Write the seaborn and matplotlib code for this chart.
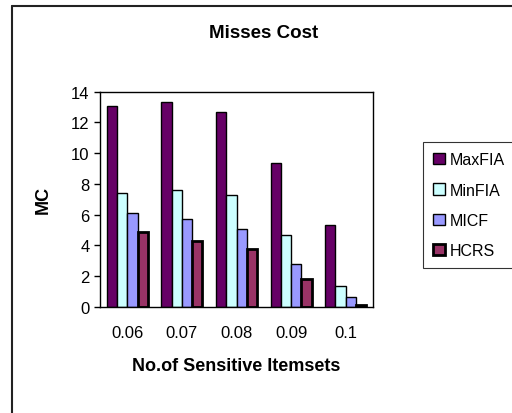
import pandas as pd
import matplotlib.pyplot as plt
import matplotlib.lines as mlines
import matplotlib.patches as mpatches
import seaborn as sns

# values
thresholds = ['0.06', '0.07', '0.08', '0.09', '0.1']
max_fia = [13.1, 13.3, 12.7, 9.35, 5.3]
min_fia = [7.4, 7.6, 7.3, 4.7, 1.35]
micf = [6.1, 5.7, 5.1, 2.8, 0.63]
hcrs = [4.9, 4.3, 3.75, 1.8, 0.15]

methods = ['MaxFIA', 'MinFIA', 'MICF', 'HCRS']
colors = ['#660066', '#CCFFFF', '#9999FF', '#993366']

df = pd.DataFrame({'Threshold': thresholds * 4,
                   'Method': sum([[m] * len(thresholds) for m in methods], []),
                   'MC': max_fia + min_fia + micf + hcrs})

sns.set_style('white')
plt.rcParams['font.family'] = ['Liberation Sans', 'DejaVu Sans']
plt.rcParams['text.color'] = 'black'
plt.rcParams['axes.labelcolor'] = 'black'
plt.rcParams['xtick.color'] = 'black'
plt.rcParams['ytick.color'] = 'black'

fig = plt.figure(figsize=(5.12, 4.14), dpi=100)
ax = fig.add_axes([100 / 512, 1 - 308 / 414, 273 / 512, 215.3 / 414])

sns.barplot(data=df, x='Threshold', y='MC', hue='Method', order=thresholds,
            hue_order=methods, palette=colors, width=0.75, edgecolor='black',
            linewidth=1, saturation=1, legend=False, ax=ax)

# thicker outline on HCRS bars
for bar in ax.containers[3]:
    bar.set_linewidth(2)

ax.set_ylim(0, 14)
ax.set_yticks(range(0, 15, 2))
ax.set_xlim(-0.5, len(thresholds) - 0.5)
ax.set_xticks(range(len(thresholds)))
ax.set_xticks([i - 0.5 for i in range(len(thresholds) + 1)], minor=True)
ax.tick_params(axis='x', which='major', length=0, labelsize=12, pad=13)
ax.tick_params(axis='x', which='minor', length=4, width=1, direction='out', color='black')
ax.tick_params(axis='y', length=4, width=1, direction='out', left=True, labelsize=12, color='black')

for s in ax.spines.values():
    s.set_color('black')
    s.set_linewidth(1)

ax.set_xlabel('No.of Sensitive Itemsets', fontsize=13, fontweight='bold', labelpad=12)
ax.set_ylabel('MC', fontsize=13, fontweight='bold', labelpad=14)
fig.text(264 / 512, 1 - 34 / 414, 'Misses Cost', ha='center', va='center',
         fontsize=13.5, fontweight='bold')

handles = [mpatches.Patch(facecolor=c, edgecolor='black', linewidth=1 if m != 'HCRS' else 2, label=m)
           for m, c in zip(methods, colors)]
leg = fig.legend(handles=handles, loc='upper left', bbox_to_anchor=(423 / 512, 1 - 143 / 414),
                 fontsize=11.5, frameon=True, fancybox=False, handlelength=0.7, handleheight=0.7,
                 labelspacing=0.95, borderpad=0.65, handletextpad=0.3, borderaxespad=0)
leg.get_frame().set_edgecolor('black')
leg.get_frame().set_linewidth(0.8)

# chart area border (top and left)
fig.add_artist(mlines.Line2D([12 / 512, 1], [1 - 7 / 414] * 2, color='#222222', linewidth=1.5))
fig.add_artist(mlines.Line2D([12 / 512] * 2, [0, 1 - 7 / 414], color='#222222', linewidth=1.5))

plt.savefig('out.png', dpi=100)
